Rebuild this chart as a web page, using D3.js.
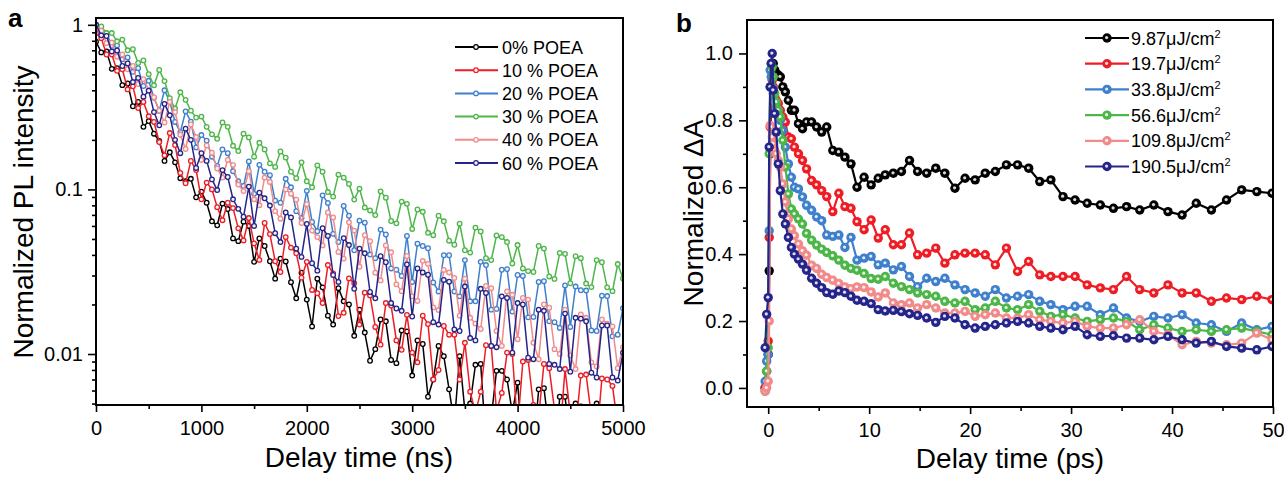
<!DOCTYPE html>
<html>
<head>
<meta charset="utf-8">
<script src="https://d3js.org/d3.v7.min.js"></script>
<style>
  body { margin: 0; background: #fff; }
  svg { display: block; font-family: "Liberation Sans", Arial, sans-serif; }
</style>
</head>
<body>
<script>
// ---------- panel a : PL decay, delay time (ns) ----------
var tA = [0,50,100,150,200,250,300,350,400,450,
  500,550,600,650,700,750,800,850,900,950,
  1000,1050,1100,1150,1200,1250,1300,1350,1400,1450,
  1500,1550,1600,1650,1700,1750,1800,1850,1900,1950,
  2000,2050,2100,2150,2200,2250,2300,2350,2400,2450,
  2500,2550,2600,2650,2700,2750,2800,2850,2900,2950,
  3000,3050,3100,3150,3200,3250,3300,3350,3400,3450,
  3500,3550,3600,3650,3700,3750,3800,3850,3900,3950,
  4000,4050,4100,4150,4200,4250,4300,4350,4400,4450,
  4500,4550,4600,4650,4700,4750,4800,4850,4900,4950,5000];

var poea0 = [0.79,0.68,0.69,0.54,0.545,0.43,0.44,0.32,0.34,0.24,
  0.26,0.218,0.197,0.149,0.168,0.146,0.117,0.112,0.116,0.0895,
  0.097,0.083,0.064,0.0605,0.082,0.076,0.0504,0.0485,0.0637,0.06,
  0.0363,0.0504,0.0453,0.0366,0.0287,0.038,0.0365,0.0273,0.0218,0.0312,
  0.0214,0.0147,0.0287,0.0254,0.0171,0.0151,0.0251,0.0209,0.020,0.0129,
  0.0186,0.0135,0.0091,0.0107,0.0162,0.0158,0.0092,0.0088,0.0139,0.0137,
  0.0074,0.0121,0.0115,0.0055,0.0070,0.0112,0.0097,0.0061,0.0038,0.0097,
  0.0045,0.0050,0.0086,0.0087,0.0028,0.0041,0.0079,0.0079,0.0070,0.0044,
  0.0067,0.0026,0.0035,0.0026,0.0061,0.0062,0.0034,0.0021,0.0055,0.0055,
  0.0029,0.0050,0.0048,0.0025,0.0026,0.0050,0.0044,0.0022,0.0025,0.0044,0.0033];

var poea10 = [0.89,0.83,0.66,0.66,0.525,0.537,0.405,0.423,0.312,0.34,
  0.278,0.257,0.194,0.161,0.22,0.186,0.126,0.109,0.149,0.131,
  0.087,0.11,0.10,0.078,0.065,0.083,0.077,0.058,0.049,0.067,
  0.047,0.0373,0.0625,0.0535,0.0366,0.0315,0.0513,0.0443,0.0409,0.0291,
  0.0363,0.0245,0.0234,0.0204,0.0347,0.0309,0.017,0.0178,0.0288,0.0269,
  0.0151,0.0236,0.0227,0.0146,0.0114,0.0204,0.0197,0.0121,0.0106,0.0173,
  0.0102,0.0089,0.0171,0.0152,0.0070,0.0080,0.0148,0.0131,0.0131,0.0070,
  0.0117,0.0059,0.0044,0.0059,0.0113,0.0112,0.0045,0.0058,0.0102,0.0100,
  0.0036,0.0090,0.0092,0.0049,0.0042,0.0087,0.0082,0.0046,0.0031,0.0081,
  0.0043,0.0035,0.0074,0.0075,0.0042,0.0030,0.0071,0.0070,0.0064,0.0037,0.0040];

var poea20 = [1.0,0.88,0.89,0.745,0.75,0.617,0.634,0.518,0.545,0.425,
  0.457,0.36,0.30,0.40,0.342,0.257,0.223,0.298,0.258,0.18,
  0.214,0.198,0.158,0.139,0.175,0.166,0.129,0.112,0.105,0.148,
  0.094,0.141,0.128,0.122,0.0855,0.083,0.116,0.103,0.0738,0.067,
  0.098,0.0634,0.0557,0.092,0.0828,0.0537,0.0479,0.0794,0.0692,0.0427,
  0.0646,0.0628,0.0402,0.0382,0.057,0.0532,0.0331,0.0325,0.0298,0.0522,
  0.0274,0.0468,0.0453,0.0439,0.0272,0.024,0.0398,0.0398,0.024,0.0224,
  0.0372,0.0209,0.0209,0.0363,0.0347,0.0186,0.0188,0.0325,0.0328,0.0181,
  0.0302,0.0298,0.0167,0.0168,0.0274,0.0277,0.0158,0.0156,0.0144,0.0261,
  0.0146,0.0257,0.0244,0.0243,0.0139,0.0138,0.0226,0.0225,0.0128,0.0131,0.019];

var poea30 = [1.0,0.977,0.891,0.891,0.794,0.813,0.70,0.711,0.586,0.608,
  0.501,0.429,0.532,0.455,0.358,0.31,0.389,0.35,0.301,0.273,
  0.277,0.24,0.216,0.203,0.255,0.24,0.184,0.171,0.218,0.207,
  0.158,0.192,0.175,0.144,0.137,0.17,0.156,0.128,0.117,0.146,
  0.112,0.103,0.14,0.128,0.0964,0.0904,0.123,0.118,0.108,0.0867,
  0.101,0.0776,0.0745,0.0698,0.0973,0.0891,0.0643,0.0622,0.0843,0.0817,
  0.0575,0.0755,0.0731,0.0545,0.0527,0.0692,0.064,0.0488,0.0461,0.0619,
  0.0427,0.0413,0.0586,0.0555,0.0382,0.0372,0.0525,0.0513,0.0479,0.0355,
  0.0459,0.0331,0.0319,0.0315,0.0453,0.0437,0.0296,0.0286,0.0411,0.0406,
  0.0269,0.0393,0.0382,0.0268,0.0255,0.0372,0.0361,0.0254,0.0241,0.0352,0.0288];

var poea40 = [0.955,0.92,0.773,0.78,0.64,0.661,0.537,0.562,0.437,0.468,
  0.402,0.363,0.301,0.255,0.34,0.295,0.215,0.176,0.248,0.208,
  0.151,0.185,0.167,0.134,0.118,0.151,0.141,0.107,0.0977,0.129,
  0.0871,0.0802,0.118,0.111,0.0738,0.0664,0.10,0.0942,0.0867,0.0625,
  0.0813,0.0562,0.0513,0.0457,0.0724,0.0676,0.0417,0.038,0.0631,0.0562,
  0.0339,0.0527,0.0485,0.0312,0.028,0.0457,0.0415,0.0265,0.0241,0.0394,
  0.0224,0.021,0.0368,0.0353,0.0192,0.0185,0.0324,0.0313,0.029,0.0171,
  0.0287,0.0166,0.0153,0.0142,0.0259,0.0251,0.0138,0.0112,0.024,0.0229,
  0.0123,0.0219,0.0214,0.0117,0.0093,0.020,0.0191,0.0107,0.010,0.0186,
  0.0098,0.0081,0.0174,0.0166,0.0089,0.0084,0.0162,0.0153,0.0147,0.0082,0.011];

var poea60 = [1.0,0.863,0.855,0.689,0.698,0.562,0.583,0.449,0.476,0.366,
  0.398,0.295,0.245,0.331,0.282,0.20,0.166,0.234,0.20,0.135,
  0.166,0.149,0.115,0.0991,0.131,0.119,0.0871,0.0762,0.0682,0.104,
  0.06,0.0955,0.0883,0.0798,0.0542,0.0479,0.0724,0.0676,0.0437,0.0389,
  0.0617,0.0356,0.0321,0.0581,0.0522,0.0302,0.0274,0.0506,0.0459,0.0249,
  0.0437,0.0409,0.0238,0.0218,0.0393,0.0361,0.0204,0.0189,0.0183,0.035,
  0.0169,0.0331,0.0313,0.0303,0.0156,0.0151,0.0282,0.0275,0.0141,0.0138,
  0.0257,0.0125,0.0121,0.0249,0.0235,0.0112,0.011,0.0224,0.0219,0.0102,
  0.0204,0.020,0.0095,0.0093,0.0186,0.0183,0.0087,0.0086,0.0081,0.0176,
  0.0078,0.0166,0.0164,0.0158,0.0077,0.0072,0.0149,0.0149,0.0072,0.0069,0.0102];

var namesA = ["0% POEA", "10 % POEA", "20 % POEA", "30 % POEA", "40 % POEA", "60 % POEA"];
var xTicksA = [0, 1000, 2000, 3000, 4000, 5000];
var xMinorA = [500, 1500, 2500, 3500, 4500];
var yTicksA = [0.01, 0.1, 1];
var yLabelsA = ["0.01", "0.1", "1"];
var yMinorA = [0.005,0.006,0.007,0.008,0.009,0.02,0.03,0.04,0.05,0.06,0.07,0.08,0.09,0.2,0.3,0.4,0.5,0.6,0.7,0.8,0.9];

// ---------- panel b : transient absorption, delay time (ps) ----------
var tB = [-0.3,-0.15,0,0.1,0.2,0.3,0.4,0.5,0.65,0.8,1.0,1.2,1.45,1.7,2.0,2.3,2.6,3.0,3.4,3.8,
  4.3,4.8,5.3,5.8,6.4,7.0,7.6,8.2,8.8,9.5,10.2,10.9,11.6,12.4,13.2,14.0,14.8,15.7,16.6,17.5,
  18.5,19.5,20.5,21.5,22.5,23.6,24.7,25.8,26.9,28.0,29.2,30.4,31.6,32.9,34.2,35.5,36.8,38.2,39.6,41.0,
  42.4,43.9,45.4,46.9,48.4,49.9];

var f9_87 = [0.0,0.02,0.1,0.35,0.7,0.9,0.96,0.97,0.95,0.94,0.935,0.93,0.9,0.885,0.86,0.83,0.83,0.79,0.775,0.795,
  0.795,0.78,0.765,0.78,0.71,0.705,0.69,0.67,0.60,0.63,0.607,0.627,0.637,0.642,0.647,0.68,0.647,0.642,0.657,0.642,
  0.597,0.627,0.622,0.642,0.647,0.667,0.667,0.657,0.617,0.622,0.572,0.562,0.552,0.547,0.537,0.542,0.532,0.547,0.527,0.517,
  0.552,0.532,0.562,0.592,0.587,0.582];
var f19_7 = [0.0,0.05,0.14,0.45,0.78,0.9,0.92,0.9,0.87,0.86,0.85,0.83,0.81,0.795,0.75,0.745,0.72,0.70,0.68,0.655,
  0.62,0.607,0.59,0.572,0.527,0.582,0.542,0.537,0.497,0.473,0.502,0.448,0.473,0.428,0.428,0.463,0.398,0.403,0.418,0.373,
  0.398,0.403,0.403,0.398,0.368,0.418,0.348,0.378,0.338,0.333,0.333,0.333,0.308,0.299,0.294,0.333,0.294,0.284,0.308,0.284,
  0.284,0.259,0.269,0.264,0.274,0.264];
var f33_8 = [0.02,0.08,0.1,0.47,0.95,0.93,0.9,0.88,0.86,0.84,0.83,0.80,0.77,0.72,0.67,0.63,0.60,0.595,0.571,0.546,
  0.531,0.511,0.50,0.457,0.453,0.457,0.42,0.45,0.382,0.388,0.393,0.368,0.373,0.353,0.363,0.333,0.303,0.328,0.318,0.328,
  0.308,0.294,0.284,0.274,0.294,0.269,0.274,0.279,0.259,0.249,0.234,0.244,0.244,0.219,0.239,0.209,0.199,0.214,0.209,0.219,
  0.194,0.189,0.169,0.194,0.174,0.184];
var f56_6 = [-0.01,0.05,0.12,0.70,0.9,0.97,0.96,0.93,0.88,0.855,0.83,0.81,0.74,0.66,0.58,0.535,0.52,0.505,0.49,0.462,
  0.442,0.427,0.415,0.405,0.395,0.382,0.367,0.357,0.352,0.342,0.327,0.325,0.333,0.313,0.303,0.294,0.284,0.279,0.274,0.259,
  0.254,0.259,0.234,0.239,0.259,0.239,0.234,0.249,0.229,0.214,0.219,0.209,0.199,0.204,0.209,0.199,0.174,0.189,0.179,0.169,
  0.174,0.169,0.174,0.179,0.169,0.159];
var f109_8 = [-0.01,0.0,0.02,0.2,0.785,0.78,0.75,0.73,0.71,0.70,0.68,0.66,0.61,0.556,0.505,0.475,0.455,0.43,0.41,0.397,
  0.367,0.357,0.34,0.33,0.322,0.312,0.302,0.297,0.302,0.30,0.287,0.272,0.284,0.254,0.249,0.254,0.239,0.249,0.239,0.224,
  0.224,0.229,0.214,0.219,0.224,0.209,0.209,0.219,0.204,0.199,0.194,0.199,0.184,0.179,0.179,0.189,0.204,0.169,0.159,0.129,
  0.139,0.134,0.129,0.134,0.164,0.144];
var f190_5 = [0.12,0.22,0.27,0.72,0.9,0.97,1.0,0.89,0.82,0.765,0.67,0.59,0.52,0.49,0.45,0.42,0.40,0.385,0.37,0.352,
  0.328,0.313,0.30,0.285,0.28,0.29,0.285,0.274,0.262,0.259,0.252,0.234,0.23,0.232,0.228,0.222,0.217,0.209,0.196,0.214,
  0.209,0.189,0.179,0.184,0.189,0.194,0.199,0.194,0.184,0.179,0.174,0.184,0.159,0.154,0.156,0.149,0.149,0.144,0.154,0.144,
  0.134,0.139,0.124,0.119,0.114,0.124];

var namesB = ["9.87", "19.7", "33.8", "56.6", "109.8", "190.5"];
var xTicksB = [0, 10, 20, 30, 40, 50];
var xMinorB = [5, 15, 25, 35, 45];
var yTicksB = [0, 0.2, 0.4, 0.6, 0.8, 1.0];
var yMinorB = [0.1, 0.3, 0.5, 0.7, 0.9];

var colors = ["#000000", "#ee1c24", "#3f80cc", "#4cb648", "#f28a8a", "#24248a"];

var width = 1284, height = 482;
var svg = d3.select("body").append("svg")
  .attr("width", width)
  .attr("height", height);

function styleAxis(g, fs) {
  g.select(".domain").remove();
  g.selectAll(".tick line").attr("stroke", "#000").attr("stroke-width", 1.6);
  g.selectAll(".tick text").attr("fill", "#000").style("font-size", fs + "px");
}

// ================= panel a =================
var xA = d3.scaleLinear().domain([0, 5000]).range([96, 623]);
var yA = d3.scaleLog().domain([0.0049, 1.1]).range([405, 18]);

svg.append("clipPath").attr("id", "clipA")
  .append("rect").attr("x", 96).attr("y", 18).attr("width", 527).attr("height", 387);

var seriesA = [poea0, poea10, poea20, poea30, poea40, poea60];
var lineA = d3.line().x(function(d, i) { return xA(tA[i]); }).y(function(d) { return yA(d); });
var plotA = svg.append("g").attr("clip-path", "url(#clipA)");
seriesA.forEach(function(s, k) {
  plotA.append("path").datum(s)
    .attr("d", lineA)
    .attr("fill", "none")
    .attr("stroke", colors[k])
    .attr("stroke-width", 1.5);
  plotA.append("g").selectAll("circle").data(s).enter().append("circle")
    .attr("cx", function(d, i) { return xA(tA[i]); })
    .attr("cy", function(d) { return yA(d); })
    .attr("r", 2.3)
    .attr("fill", "#f4f4f4")
    .attr("stroke", colors[k])
    .attr("stroke-width", 1.3);
});

svg.append("g").attr("transform", "translate(0,405)")
  .call(d3.axisBottom(xA).tickValues(xTicksA).tickSize(7).tickPadding(9).tickFormat(d3.format("d")))
  .call(styleAxis, 20);
svg.append("g").attr("transform", "translate(0,405)")
  .call(d3.axisBottom(xA).tickValues(xMinorA).tickSize(4).tickFormat(""))
  .call(styleAxis, 20);
svg.append("g").attr("transform", "translate(96,0)")
  .call(d3.axisLeft(yA).tickValues(yTicksA).tickSize(8).tickPadding(5)
    .tickFormat(function(d, i) { return yLabelsA[i]; }))
  .call(styleAxis, 20);
svg.append("g").attr("transform", "translate(96,0)")
  .call(d3.axisLeft(yA).tickValues(yMinorA).tickSize(4).tickFormat(""))
  .call(styleAxis, 20);

svg.append("rect").attr("x", 96).attr("y", 18).attr("width", 527).attr("height", 387)
  .attr("fill", "none").attr("stroke", "#000").attr("stroke-width", 2);

// legend a
var legA = svg.append("g");
namesA.forEach(function(n, k) {
  var y = 47 + k * 23.2;
  legA.append("line").attr("x1", 455).attr("x2", 498).attr("y1", y).attr("y2", y)
    .attr("stroke", colors[k]).attr("stroke-width", 2);
  legA.append("circle").attr("cx", 476).attr("cy", y).attr("r", 2.3)
    .attr("fill", "#f4f4f4").attr("stroke", colors[k]).attr("stroke-width", 1.2);
  legA.append("text").attr("x", 502).attr("y", y + 6.5).style("font-size", "18px").text(n);
});

svg.append("text").attr("x", 359).attr("y", 467).attr("text-anchor", "middle")
  .style("font-size", "28px").text("Delay time (ns)");
svg.append("text").attr("transform", "translate(33,212) rotate(-90)").attr("text-anchor", "middle")
  .style("font-size", "28px").text("Normalized PL intensity");
svg.append("text").attr("x", 8).attr("y", 27).style("font-size", "26px").style("font-weight", "bold").text("a");

// ================= panel b =================
var xB = d3.scaleLinear().domain([-2.1, 50]).range([747, 1273]);
var yB = d3.scaleLinear().domain([-0.057, 1.1]).range([407, 20]);

svg.append("clipPath").attr("id", "clipB")
  .append("rect").attr("x", 747).attr("y", 20).attr("width", 526).attr("height", 387);

var seriesB = [f9_87, f19_7, f33_8, f56_6, f109_8, f190_5];
var lineB = d3.line().x(function(d, i) { return xB(tB[i]); }).y(function(d) { return yB(d); });
var plotB = svg.append("g").attr("clip-path", "url(#clipB)");
seriesB.forEach(function(s, k) {
  plotB.append("path").datum(s)
    .attr("d", lineB)
    .attr("fill", "none")
    .attr("stroke", colors[k])
    .attr("stroke-width", 2.2);
  var m = plotB.append("g").selectAll("g").data(s).enter().append("g")
    .attr("transform", function(d, i) { return "translate(" + xB(tB[i]) + "," + yB(d) + ")"; });
  m.append("circle").attr("r", 4.7).attr("fill", colors[k]);
  m.append("circle").attr("r", 1.6).attr("cx", -0.4).attr("cy", -0.4).attr("fill", "#fff").attr("fill-opacity", 0.85);
});

svg.append("g").attr("transform", "translate(0,407)")
  .call(d3.axisBottom(xB).tickValues(xTicksB).tickSize(7).tickPadding(9).tickFormat(d3.format("d")))
  .call(styleAxis, 20);
svg.append("g").attr("transform", "translate(0,407)")
  .call(d3.axisBottom(xB).tickValues(xMinorB).tickSize(4).tickFormat(""))
  .call(styleAxis, 20);
svg.append("g").attr("transform", "translate(747,0)")
  .call(d3.axisLeft(yB).tickValues(yTicksB).tickSize(8).tickPadding(6).tickFormat(d3.format(".1f")))
  .call(styleAxis, 20);
svg.append("g").attr("transform", "translate(747,0)")
  .call(d3.axisLeft(yB).tickValues(yMinorB).tickSize(4).tickFormat(""))
  .call(styleAxis, 20);

svg.append("rect").attr("x", 747).attr("y", 20).attr("width", 526).attr("height", 387)
  .attr("fill", "none").attr("stroke", "#000").attr("stroke-width", 2);

// legend b
var legB = svg.append("g");
namesB.forEach(function(n, k) {
  var y = 38 + k * 25.7;
  legB.append("line").attr("x1", 1085).attr("x2", 1129).attr("y1", y).attr("y2", y)
    .attr("stroke", colors[k]).attr("stroke-width", 2.2);
  legB.append("circle").attr("cx", 1107).attr("cy", y).attr("r", 4.7).attr("fill", colors[k]);
  legB.append("circle").attr("cx", 1106.6).attr("cy", y - 0.4).attr("r", 1.6).attr("fill", "#fff").attr("fill-opacity", 0.85);
  var t = legB.append("text").attr("x", 1131).attr("y", y + 6.5).style("font-size", "18px");
  t.append("tspan").text(n + "\u03bcJ/cm");
  t.append("tspan").attr("dy", -7).style("font-size", "11px").text("2");
});

svg.append("text").attr("x", 1010).attr("y", 468).attr("text-anchor", "middle")
  .style("font-size", "28px").text("Delay time (ps)");
svg.append("text").attr("transform", "translate(703,213) rotate(-90)").attr("text-anchor", "middle")
  .style("font-size", "28px").text("Normalized \u0394A");
svg.append("text").attr("x", 676).attr("y", 32).style("font-size", "26px").style("font-weight", "bold").text("b");
</script>
</body>
</html>
